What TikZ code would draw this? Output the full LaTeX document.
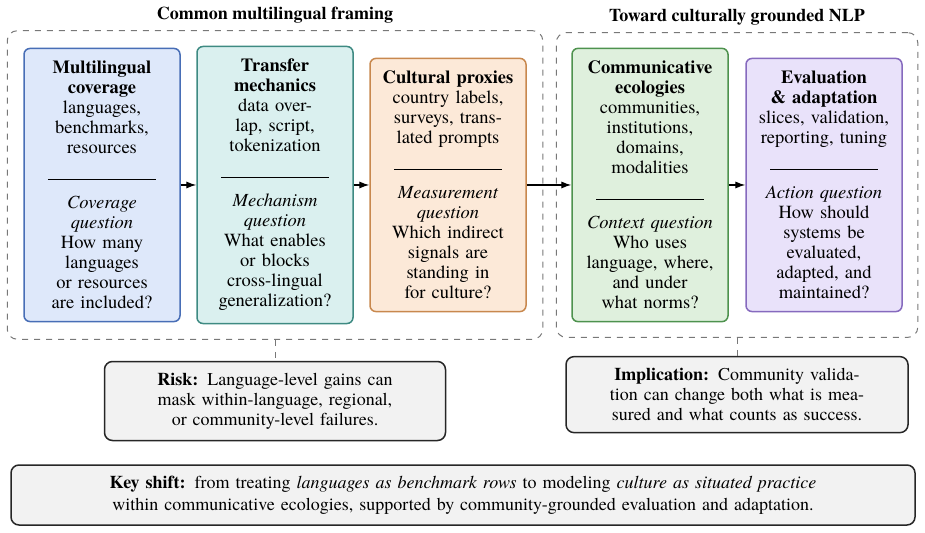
\documentclass[tikz,border=0pt]{standalone}
\usepackage{fontspec}
\setmainfont{TeX Gyre Termes}
\usetikzlibrary{positioning,fit,arrows.meta}

\definecolor{covfill}{RGB}{222,232,250}
\definecolor{covdraw}{RGB}{72,110,182}
\definecolor{mechfill}{RGB}{218,240,239}
\definecolor{mechdraw}{RGB}{62,138,130}
\definecolor{proxfill}{RGB}{252,233,216}
\definecolor{proxdraw}{RGB}{200,136,78}
\definecolor{ecofill}{RGB}{223,240,221}
\definecolor{ecodraw}{RGB}{78,146,78}
\definecolor{evalfill}{RGB}{233,226,250}
\definecolor{evaldraw}{RGB}{134,106,190}
\definecolor{notefill}{RGB}{242,242,242}
\definecolor{framegray}{RGB}{120,120,120}

% stage box body: heading, items, rule, question label, question
\newcommand{\stagetext}[4]{\textbf{#1}\\#2\\[3.25pt]\rule{54pt}{0.5pt}\\[4.25pt]\textit{#3}\\#4}

\tikzset{
  stage/.style={draw,rounded corners=3pt,line width=0.75pt,text width=70pt,minimum width=78pt,
    inner xsep=4pt,inner ysep=6.3pt,align=center},
  group/.style={draw=framegray,dashed,rounded corners=5pt,line width=0.5pt,inner sep=7.5pt},
  note/.style={draw=black!85,fill=notefill,rounded corners=4pt,line width=0.75pt,align=center,
    font=\fontsize{9}{10}\selectfont},
  flow/.style={-{Latex[length=5pt,width=3.6pt]},line width=0.6pt},
  link/.style={draw=framegray,dashed,line width=0.5pt},
  grouptitle/.style={font=\fontsize{9}{10}\selectfont\bfseries,anchor=base}
}

\begin{document}
\begin{tikzpicture}[x=0.5pt,y=-0.5pt,font=\fontsize{9.25}{10}\selectfont]
  \useasboundingbox (0,0) rectangle (925,533);
  % stages
  \node[stage,fill=covfill,draw=covdraw] (cov) at (102,185) {\stagetext{Multilingual\\coverage}{languages,\\benchmarks,\\resources}{Coverage\\question}{How many\\languages\\or resources\\are included?}};
  \node[stage,fill=mechfill,draw=mechdraw] (mech) at (275,185) {\stagetext{Transfer\\mechanics}{data over-\\lap, script,\\tokenization}{Mechanism\\question}{What enables\\or blocks\\cross-lingual\\generalization?}};
  \node[stage,fill=proxfill,draw=proxdraw] (prox) at (448,185) {\stagetext{Cultural proxies}{country labels,\\surveys, trans-\\lated prompts}{Measurement\\question}{Which indirect\\signals are\\standing in\\for culture?}};
  \node[stage,fill=ecofill,draw=ecodraw] (eco) at (650,185) {\stagetext{Communicative\\ecologies}{communities,\\institutions,\\domains,\\modalities}{Context question}{Who uses\\language, where,\\and under\\what norms?}};
  \node[stage,fill=evalfill,draw=evaldraw] (eval) at (824,185) {\stagetext{Evaluation\\\& adaptation}{slices, validation,\\reporting, tuning}{Action question}{How should\\systems be\\evaluated,\\adapted, and\\maintained?}};
  % group frames
  \node[group,inner xsep=8pt,fit=(cov)(mech)(prox)] (lframe) {};
  \node[group,fit=(eco)(eval)] (rframe) {};
  \node[grouptitle] (ltitle) at ([yshift=5.5pt]lframe.north) {Common multilingual framing};
  \node[grouptitle] (rtitle) at ([yshift=5.5pt]rframe.north) {Toward culturally grounded NLP};
  \draw[flow] (cov) -- (mech);
  \draw[flow] (mech) -- (prox);
  \draw[flow] (prox) -- (eco);
  \draw[flow] (eco) -- (eval);
  % notes
  \node[note,text width=158pt,minimum width=170.5pt,minimum height=39.5pt,below=10.5pt of lframe] (risk) {\textbf{Risk:} Language-level gains can\\mask within-language, regional,\\or community-level failures.};
  \node[note,text width=158pt,minimum width=171pt,minimum height=38pt,below=9pt of rframe] (impl) {\textbf{Implication:} Community valida-\\tion can change both what is mea-\\sured and what counts as success.};
  \draw[link] (lframe) -- (risk);
  \draw[link] (rframe) -- (impl);
  \node[note,text width=440pt,minimum width=452pt,minimum height=30pt] (shift) at (463,495) {\textbf{Key shift:} from treating \textit{languages as benchmark rows} to modeling \textit{culture as situated practice}\\[1pt]within communicative ecologies, supported by community-grounded evaluation and adaptation.};
\end{tikzpicture}
\end{document}
